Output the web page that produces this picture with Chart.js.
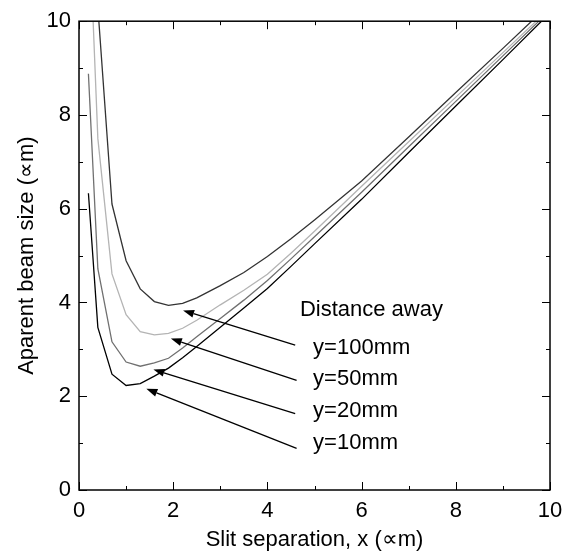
<!DOCTYPE html>
<html>
<head>
<meta charset="utf-8">
<script src="https://cdn.jsdelivr.net/npm/chart.js@4/dist/chart.umd.min.js"></script>
<style>
  body { margin: 0; background: #fff; }
  #wrap { width: 572px; height: 553px; }
</style>
</head>
<body>
<div id="wrap"><canvas id="grafik" width="572" height="553"></canvas></div>
<script>
// data
const slitX = [0.2, 0.4, 0.7, 1.0, 1.3, 1.6, 1.9, 2.2, 2.5, 3, 3.5, 4, 4.5, 5, 6, 7, 8, 9, 10];
const beam100 = [20.0, 10.3, 6.1, 4.89, 4.29, 4.02, 3.94, 3.98, 4.1, 4.36, 4.64, 4.98, 5.36, 5.76, 6.59, 7.53, 8.48, 9.42, 10.37];
const beam50 = [12.5, 7.5, 4.61, 3.74, 3.38, 3.31, 3.34, 3.45, 3.62, 3.95, 4.26, 4.6, 5.05, 5.52, 6.48, 7.43, 8.38, 9.33, 10.28];
const beam20 = [8.88, 4.72, 3.16, 2.73, 2.64, 2.71, 2.81, 3.03, 3.27, 3.66, 4.05, 4.47, 4.93, 5.4, 6.35, 7.32, 8.29, 9.26, 10.23];
const beam10 = [6.33, 3.47, 2.47, 2.23, 2.27, 2.43, 2.6, 2.82, 3.06, 3.47, 3.88, 4.3, 4.77, 5.25, 6.2, 7.2, 8.19, 9.18, 10.18];
const tickVals = [0, 2, 4, 6, 8, 10];

const seriesNames = ['y=100mm', 'y=50mm', 'y=20mm', 'y=10mm'];
const seriesColors = ['#333333', '#b4b4b4', '#707070', '#000000'];
// arrow tail / head in data units
const arrowTail = [[4.59, 3.09], [4.62, 2.34], [4.59, 1.63], [4.62, 0.89]];
const arrowHead = [[2.21, 3.83], [1.95, 3.23], [1.58, 2.57], [1.43, 2.16]];
const labelPos = [[4.97, 3.04], [4.97, 2.36], [4.97, 1.68], [4.97, 1.0]];
const legendTitlePos = [4.69, 3.85];

const FONT = 'Liberation Sans, Arial, sans-serif';

function pts(ys) {
    return slitX.map((x, i) => ({ x: x, y: ys[i] }));
}

const annotasi = {
    id: 'annotasi',
    afterDraw(chart) {
        const c = chart.ctx;
        const xs = chart.scales.x, ys = chart.scales.y;
        const a = chart.chartArea;
        c.save();
        c.strokeStyle = '#000';
        c.lineWidth = 1.5;
        c.strokeRect(a.left, a.top, a.right - a.left, a.bottom - a.top);

        // inward ticks on all 4 sides
        c.lineWidth = 1;
        for (let v = 0; v <= 10; v++) {
            const len = v % 2 === 0 ? 8 : 4;
            const px = Math.round(xs.getPixelForValue(v)) + 0.5;
            const py = Math.round(ys.getPixelForValue(v)) + 0.5;
            c.beginPath();
            c.moveTo(px, a.bottom); c.lineTo(px, a.bottom - len);
            c.moveTo(px, a.top); c.lineTo(px, a.top + len);
            c.moveTo(a.left, py); c.lineTo(a.left + len, py);
            c.moveTo(a.right, py); c.lineTo(a.right - len, py);
            c.stroke();
        }

        // arrows
        c.fillStyle = '#000';
        c.lineWidth = 1.3;
        arrowTail.forEach((t, i) => {
            const x0 = xs.getPixelForValue(t[0]), y0 = ys.getPixelForValue(t[1]);
            const x1 = xs.getPixelForValue(arrowHead[i][0]), y1 = ys.getPixelForValue(arrowHead[i][1]);
            const ang = Math.atan2(y1 - y0, x1 - x0);
            const hl = 11, hw = 4;
            const bx = x1 - hl * Math.cos(ang), by = y1 - hl * Math.sin(ang);
            c.beginPath();
            c.moveTo(x0, y0); c.lineTo(bx, by);
            c.stroke();
            c.beginPath();
            c.moveTo(x1, y1);
            c.lineTo(bx + hw * Math.sin(ang), by - hw * Math.cos(ang));
            c.lineTo(bx - hw * Math.sin(ang), by + hw * Math.cos(ang));
            c.closePath();
            c.fill();
        });

        // texts
        c.font = '22px ' + FONT;
        c.textBaseline = 'middle';
        c.textAlign = 'left';
        c.fillText('Distance away', xs.getPixelForValue(legendTitlePos[0]), ys.getPixelForValue(legendTitlePos[1]));
        labelPos.forEach((p, i) => {
            c.fillText(seriesNames[i], xs.getPixelForValue(p[0]), ys.getPixelForValue(p[1]));
        });
        c.restore();
    }
};

new Chart(document.getElementById('grafik'), {
    type: 'line',
    data: {
        datasets: seriesNames.map((n, i) => ({
            label: n,
            data: pts([beam100, beam50, beam20, beam10][i]),
            borderColor: seriesColors[i],
            borderWidth: 1.3,
            pointRadius: 0,
            tension: 0,
            fill: false
        }))
    },
    options: {
        responsive: false,
        animation: false,
        devicePixelRatio: 1,
        layout: { padding: { top: 20, right: 22, left: 0, bottom: 0 } },
        plugins: { legend: { display: false }, tooltip: { enabled: false } },
        scales: {
            x: {
                type: 'linear', min: 0, max: 10,
                afterFit: s => { s.height = 63; },
                afterBuildTicks: s => { s.ticks = tickVals.map(v => ({ value: v })); },
                grid: { display: false, drawTicks: false },
                border: { display: false },
                ticks: { color: '#000', padding: 8, font: { family: FONT, size: 22 }, maxRotation: 0 },
                title: { display: true, text: 'Slit separation, x (∝m)', color: '#000',
                         font: { family: FONT, size: 22 }, padding: { top: 0, bottom: 0 } }
            },
            y: {
                type: 'linear', min: 0, max: 10,
                afterFit: s => { s.width = 79; },
                afterBuildTicks: s => { s.ticks = tickVals.map(v => ({ value: v })); },
                grid: { display: false, drawTicks: false },
                border: { display: false },
                ticks: { color: '#000', padding: 8, font: { family: FONT, size: 22 } },
                title: { display: true, text: 'Aparent beam size (∝m)', color: '#000',
                         font: { family: FONT, size: 22 }, padding: { top: 14, bottom: 0 } }
            }
        }
    },
    plugins: [annotasi]
});
</script>
</body>
</html>
